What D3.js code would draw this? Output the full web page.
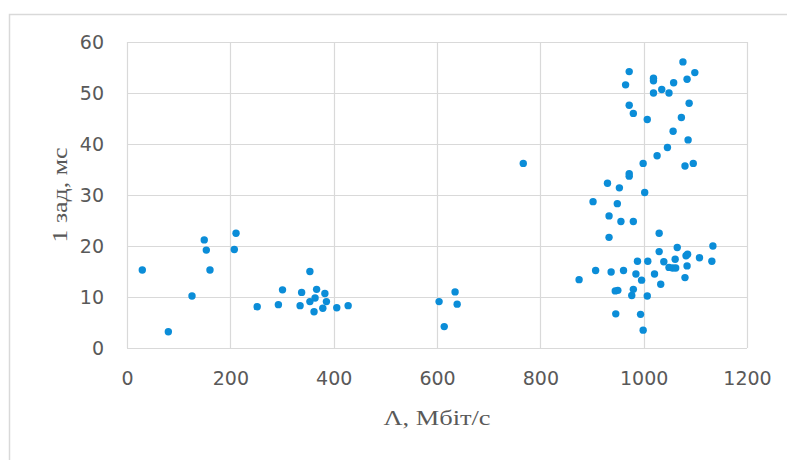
<!DOCTYPE html>
<html>
<head>
<meta charset="utf-8">
<script src="https://cdn.jsdelivr.net/npm/d3@7"></script>
<style>
  body { margin: 0; background: #fff; }
  svg { display: block; }
</style>
</head>
<body>
<svg id="chart" width="787" height="460"></svg>
<script>
// throughput, Mbit/s
var rateMbps = [
  29.6, 80, 125.8, 149.5, 153.5, 160.6, 207.7, 211,
  252, 293, 301, 335, 338, 354, 354, 364, 367, 383, 386, 379, 362, 406, 428,
  604, 614, 635, 639,
  767,
  875, 907, 937, 961, 985, 996, 1021, 1033, 1080,
  945, 950, 980, 977, 1007, 946, 994, 999,
  988, 1008, 1039, 1061, 1049, 1056, 1062, 1084, 1082, 1085, 1108, 1132, 1134, 1065, 1030, 1030, 933,
  902, 949, 933, 956, 980, 930, 953, 1002, 972, 972, 999, 1026, 1046, 1057, 1080, 1096, 1086,
  1073, 1007, 980, 972, 1088, 1019, 1049, 1035, 965, 1058, 1019, 1019, 1084, 972, 1099, 1076
];

// delay, ms
var delayMs = [
  15.3, 3.2, 10.2, 21.2, 19.2, 15.3, 19.3, 22.5,
  8.1, 8.5, 11.4, 8.3, 10.9, 15.0, 9.1, 9.8, 11.5, 10.7, 9.1, 7.8, 7.1, 7.9, 8.3,
  9.1, 4.2, 11.0, 8.6,
  36.2,
  13.4, 15.2, 14.9, 15.2, 14.5, 13.3, 14.5, 12.5, 13.8,
  11.2, 11.3, 11.5, 10.3, 10.2, 6.7, 6.6, 3.5,
  17.0, 17.0, 16.9, 17.4, 15.8, 15.7, 15.7, 16.1, 18.1, 18.4, 17.7, 17.0, 20.0, 19.7, 18.9, 22.5, 21.7,
  28.7, 28.3, 25.9, 24.8, 24.8, 32.3, 31.4, 30.5, 33.7, 34.2, 36.2, 37.7, 39.3, 42.5, 35.7, 36.2, 40.8,
  45.2, 44.8, 46.0, 47.6, 48.0, 50.0, 50.0, 50.7, 51.6, 52.0, 52.4, 52.9, 52.7, 54.2, 54.0, 56.1
];

var xTicks = [0, 200, 400, 600, 800, 1000, 1200];
var yTicks = [0, 10, 20, 30, 40, 50, 60];

var xTitle = "Λ, Мбіт/с";
var yTitle = "1 зад, мс";

var points = rateMbps.map(function (r, i) { return { x: r, y: delayMs[i] }; });

var svg = d3.select("#chart");
var margin = { left: 127, top: 42, right: 40, bottom: 112 };
var width = 787 - margin.left - margin.right;
var height = 460 - margin.top - margin.bottom;

var gridColor = "#d9d9d9";
var textColor = "#595959";

// outer chart frame
svg.append("path")
  .attr("d", "M9.5,460 V14.5 H787")
  .attr("fill", "none")
  .attr("stroke", gridColor)
  .attr("stroke-width", 1.5);

var g = svg.append("g")
  .attr("transform", "translate(" + margin.left + "," + margin.top + ")");

var x = d3.scaleLinear().domain([0, 1200]).range([0, width]);
var y = d3.scaleLinear().domain([0, 60]).range([height, 0]);

// gridlines
g.append("g")
  .selectAll("line.vx")
  .data(xTicks)
  .join("line")
  .attr("x1", function (d) { return Math.round(x(d)) + 0.5; })
  .attr("x2", function (d) { return Math.round(x(d)) + 0.5; })
  .attr("y1", 0)
  .attr("y2", height)
  .attr("stroke", gridColor)
  .attr("stroke-width", 1.2);

g.append("g")
  .selectAll("line.hy")
  .data(yTicks)
  .join("line")
  .attr("y1", function (d) { return Math.round(y(d)) + 0.5; })
  .attr("y2", function (d) { return Math.round(y(d)) + 0.5; })
  .attr("x1", 0)
  .attr("x2", width)
  .attr("stroke", gridColor)
  .attr("stroke-width", 1.2);

// axes (labels only, lines come from the grid)
var xAxis = d3.axisBottom(x).tickValues(xTicks).tickFormat(d3.format("d")).tickSize(0).tickPadding(24);
var yAxis = d3.axisLeft(y).tickValues(yTicks).tickFormat(d3.format("d")).tickSize(0).tickPadding(23);

var xAxisG = g.append("g").attr("transform", "translate(0," + height + ")").call(xAxis);
var yAxisG = g.append("g").call(yAxis);

[xAxisG, yAxisG].forEach(function (a) {
  a.select(".domain").remove();
  a.selectAll("text")
    .attr("fill", textColor)
    .style("font-family", "'DejaVu Sans', sans-serif")
    .style("font-size", "19px");
});
yAxisG.selectAll("text").attr("dy", "0.36em");

// marks
g.append("g")
  .selectAll("circle")
  .data(points)
  .join("circle")
  .attr("cx", function (d) { return x(d.x); })
  .attr("cy", function (d) { return y(d.y); })
  .attr("r", 3.7)
  .attr("fill", "#0b8dd8");

// axis titles
svg.append("text")
  .attr("x", margin.left + width / 2)
  .attr("y", 425)
  .attr("text-anchor", "middle")
  .attr("textLength", 107)
  .attr("lengthAdjust", "spacingAndGlyphs")
  .attr("fill", textColor)
  .style("font-family", "'Liberation Serif', serif")
  .style("font-size", "22px")
  .text(xTitle);

svg.append("text")
  .attr("transform", "translate(67," + (margin.top + height / 2) + ") rotate(-90)")
  .attr("text-anchor", "middle")
  .attr("textLength", 95)
  .attr("lengthAdjust", "spacingAndGlyphs")
  .attr("fill", textColor)
  .style("font-family", "'Liberation Serif', serif")
  .style("font-size", "22px")
  .text(yTitle);
</script>
</body>
</html>
